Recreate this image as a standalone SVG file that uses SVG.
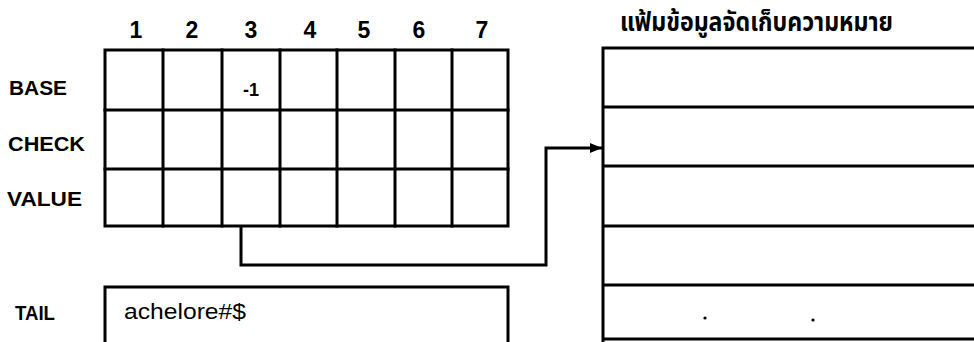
<svg xmlns="http://www.w3.org/2000/svg" width="974" height="342" viewBox="0 0 974 342">
<defs>
<marker id="arrow" markerWidth="12" markerHeight="10" refX="12" refY="5" orient="auto" markerUnits="userSpaceOnUse"><path d="M0,0 L12,5 L0,10 Z" fill="#000"/></marker>
</defs>
<style>
.ln{stroke:#000;stroke-width:3;fill:none;stroke-linecap:square}
.lbl{font-family:"Liberation Sans",Arial,sans-serif;font-weight:bold;font-size:21px;fill:#000}
.num{font-family:"Liberation Sans",Arial,sans-serif;font-weight:bold;font-size:23px;fill:#000;text-anchor:middle}
.val{font-family:"Liberation Sans",Arial,sans-serif;font-weight:bold;font-size:18px;fill:#000;text-anchor:middle}
.str{font-family:"Liberation Sans",Arial,sans-serif;font-size:22px;fill:#000}
.th{font-family:"Noto Sans Thai","Noto Sans","DejaVu Sans",sans-serif;font-weight:bold;font-size:26px;fill:#000}
</style>
<rect width="974" height="342" fill="#fff"/>
<g id="column-headers">
<text class="num" x="136" y="38">1</text>
<text class="num" x="192" y="38">2</text>
<text class="num" x="251" y="38">3</text>
<text class="num" x="310" y="38">4</text>
<text class="num" x="364" y="38">5</text>
<text class="num" x="419" y="38">6</text>
<text class="num" x="482" y="38">7</text>
</g>
<g id="row-labels">
<text class="lbl" x="9" y="95" textLength="58" lengthAdjust="spacingAndGlyphs">BASE</text>
<text class="lbl" x="8" y="151" textLength="77" lengthAdjust="spacingAndGlyphs">CHECK</text>
<text class="lbl" x="7" y="206" textLength="75" lengthAdjust="spacingAndGlyphs">VALUE</text>
<text class="lbl" x="15" y="320" textLength="40" lengthAdjust="spacingAndGlyphs">TAIL</text>
</g>
<g id="array">
<rect class="ln" x="105" y="50" width="403" height="176"/>
<path class="ln" d="M163,50V226M222,50V226M280,50V226M337,50V226M395,50V226M452,50V226M105,110H508M105,169H508"/>
<text class="val" x="251" y="96">-1</text>
</g>
<g id="tail">
<path class="ln" d="M105,345V287H508V345"/>
<text class="str" x="124" y="319" textLength="122" lengthAdjust="spacingAndGlyphs">achelore#$</text>
</g>
<g id="meaning-file">
<text class="th" x="620" y="31" textLength="273" lengthAdjust="spacingAndGlyphs">แฟ้มข้อมูลจัดเก็บความหมาย</text>
<path class="ln" d="M603,345V48M603,48H980M603,107H980M603,166H980M603,226H980M603,285H980M603,339H980"/>
<circle cx="705" cy="318" r="1.6" fill="#000"/>
<circle cx="813" cy="320" r="1.6" fill="#000"/>
</g>
<g id="connectors">
<path class="ln" style="stroke-linecap:butt" d="M241,226V265H546V148H602" marker-end="url(#arrow)"/>
</g>
</svg>
